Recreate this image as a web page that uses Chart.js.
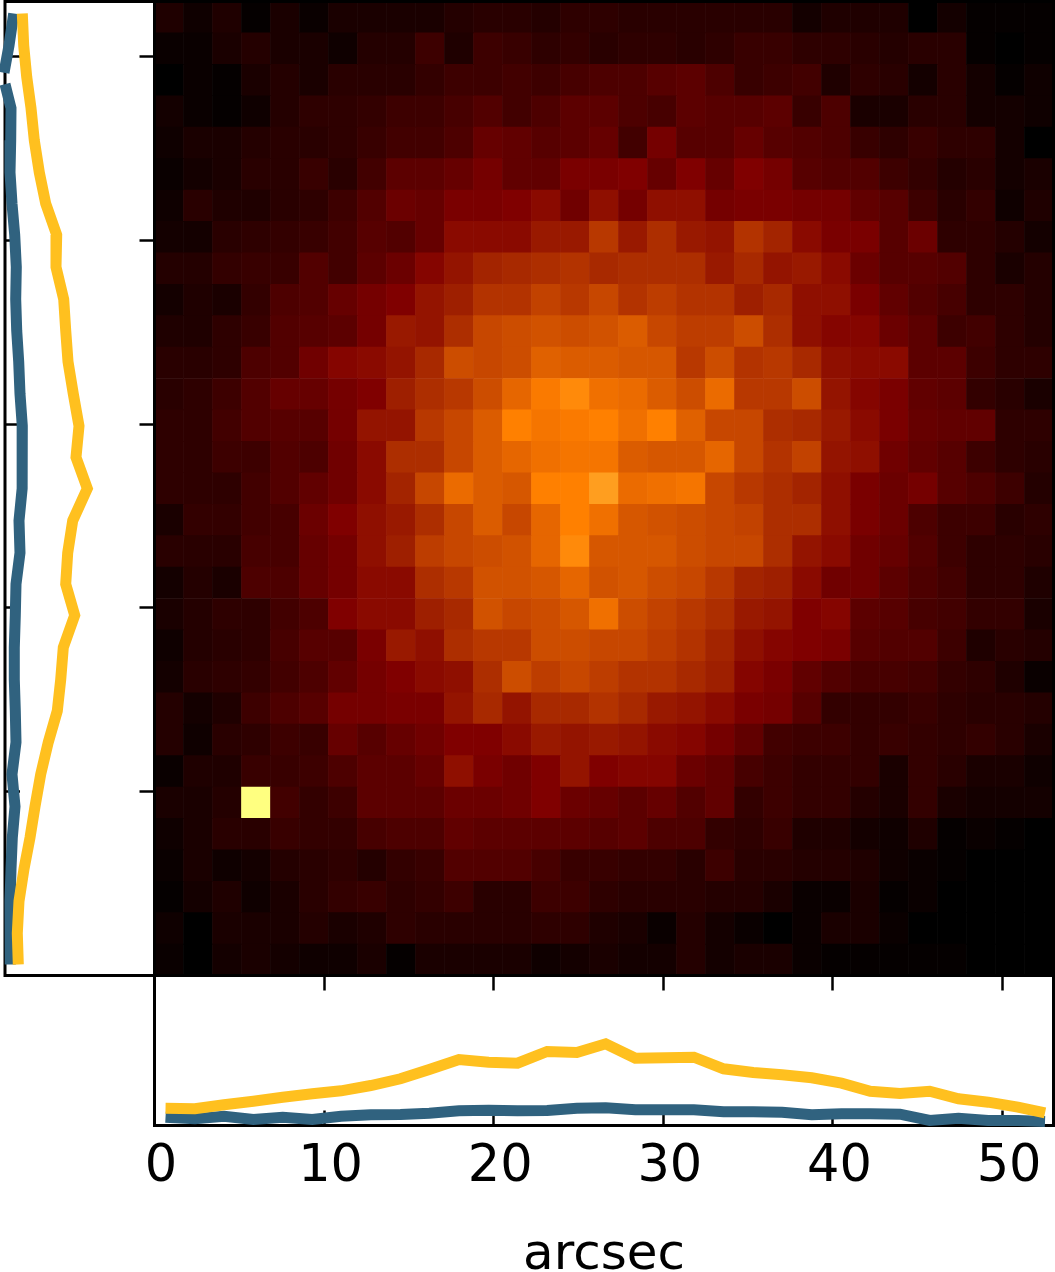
<!DOCTYPE html>
<html>
<head>
<meta charset="utf-8">
<script src="https://cdn.jsdelivr.net/npm/chart.js@4"></script>
<style>
    body{margin:0;background:#fff;}
    #page{position:relative;width:1055px;height:1272px;overflow:hidden;}
    canvas{position:absolute;display:block;}
</style>
</head>
<body>
<div id="page">
    <canvas id="leftChart" width="157" height="978" style="left:0;top:0"></canvas>
    <canvas id="mainChart" width="902" height="978" style="left:153px;top:0"></canvas>
    <canvas id="bottomChart" width="1055" height="298" style="left:0;top:974px"></canvas>
</div>
<script>
// map brightness, one list per row, top row first (percent of the colour scale)
const heatRows=[
    [6,3,6,1,5,2,5,5,5,5,7,8,8,7,9,9,8,8,8,8,8,8,4,6,6,6,0,4,1,1,1],
    [2,2,5,7,5,5,3,7,7,12,6,12,11,9,10,8,9,9,8,9,11,11,9,9,8,7,8,8,1,0,1],
    [0,2,1,5,7,5,8,8,8,10,12,12,13,12,14,15,15,17,18,15,11,12,13,6,9,8,4,8,4,1,3],
    [4,2,1,3,7,9,9,10,12,12,14,16,13,15,18,18,15,14,18,17,17,18,11,15,5,5,8,8,4,4,3],
    [3,5,5,7,8,8,9,11,13,13,15,20,19,17,18,20,13,23,17,17,20,17,16,15,11,9,11,9,9,4,0],
    [2,4,5,8,8,11,8,13,18,18,20,23,19,19,24,24,25,20,25,20,25,23,17,16,16,12,10,7,8,4,5],
    [3,8,6,6,8,9,12,16,21,20,24,24,25,27,22,28,23,28,28,23,24,24,23,23,19,17,12,8,10,3,6],
    [4,4,8,9,10,11,13,17,16,20,27,27,27,30,30,36,30,34,30,29,35,32,27,24,24,17,21,9,9,7,4],
    [7,7,10,11,11,16,13,18,21,26,29,32,33,34,35,33,34,34,34,30,33,29,30,27,21,17,17,16,9,5,7],
    [4,6,5,10,15,16,20,23,25,29,31,35,35,38,36,39,35,37,35,35,31,33,28,28,24,19,16,14,9,9,7],
    [6,6,9,11,16,17,18,23,30,29,34,39,40,41,40,41,43,39,37,37,40,34,28,26,26,21,18,12,13,9,7],
    [8,8,9,15,16,22,26,27,29,33,40,39,40,44,43,43,42,42,36,40,35,36,33,28,27,27,18,18,12,9,9],
    [8,9,12,16,20,20,23,25,31,34,36,40,45,49,52,47,46,43,40,46,36,36,40,29,26,24,19,18,10,8,5],
    [9,9,13,16,17,17,23,29,29,36,39,43,50,48,49,50,47,50,44,39,39,34,33,30,27,24,20,19,19,9,9],
    [9,9,12,12,16,15,22,27,34,34,39,43,45,47,48,48,43,42,42,45,39,35,38,29,28,22,19,17,12,9,8],
    [9,9,9,13,16,19,22,27,32,39,46,43,42,50,50,56,46,47,48,39,36,34,32,28,24,21,23,17,15,12,7],
    [5,10,10,13,14,21,25,28,30,34,39,43,39,45,50,47,42,41,40,39,38,34,34,28,24,21,15,12,12,8,9],
    [8,8,8,14,14,20,23,28,31,37,39,40,41,45,52,42,42,42,40,39,39,34,29,27,22,20,16,12,9,9,8],
    [4,7,5,15,15,20,23,27,27,34,36,41,41,42,45,41,42,40,39,36,32,31,27,22,22,18,15,13,9,9,6],
    [5,7,9,9,13,15,25,27,27,31,33,41,39,40,42,47,40,38,36,34,30,29,25,26,18,17,14,13,10,10,5],
    [3,7,8,9,14,17,17,24,30,28,34,36,36,40,40,39,39,37,35,32,28,26,25,24,17,16,16,12,6,8,7],
    [4,8,9,10,13,15,19,23,25,27,28,34,40,37,39,37,35,35,33,31,26,24,19,16,14,14,13,10,9,6,2],
    [7,4,6,12,15,17,23,23,24,24,29,33,29,33,33,35,33,30,29,27,24,23,17,10,10,10,11,9,8,8,7],
    [7,3,8,9,12,11,20,17,20,22,25,25,27,30,29,30,29,27,26,23,19,13,12,12,10,11,10,9,10,8,5],
    [2,6,6,11,11,12,15,18,18,20,28,24,22,25,29,25,26,26,21,19,14,12,10,10,10,5,10,8,5,5,3],
    [5,5,7,75,13,10,12,18,18,18,21,21,22,25,21,20,18,20,16,19,10,12,10,10,7,5,10,5,4,4,4],
    [3,5,8,8,11,10,10,14,15,15,19,18,18,18,18,17,18,15,15,10,9,11,6,6,4,3,6,1,2,1,0],
    [2,5,3,4,7,8,9,7,10,11,16,16,16,14,11,11,10,10,8,12,8,8,7,7,6,3,2,1,0,0,0],
    [1,4,6,3,5,8,10,11,9,10,12,8,8,12,12,9,8,8,8,7,7,5,2,2,5,1,2,0,0,0,0],
    [3,0,5,5,5,7,5,6,9,8,8,8,8,9,9,6,5,2,7,4,2,0,2,5,5,2,0,0,0,0,0],
    [2,0,4,5,4,3,3,5,1,5,5,5,5,3,4,5,4,4,7,4,5,5,2,1,1,1,1,1,0,0,0],
];
// arcsec positions of the profile points
const scanX=[0.65,2.38,4.1,5.83,7.56,9.3,11,12.75,14.5,16.2,17.95,19.7,21.4,23.15,24.9,26.6,28.35,30.1,31.8,33.55,35.3,37,38.75,40.5,42.2,43.95,45.7,47.4,49.15,50.9,52.5];
const scanY=[52.35,50.6,48.9,47.2,45.45,43.7,42,40.3,38.55,36.8,35.1,33.4,31.65,29.9,28.2,26.5,24.75,23,21.3,19.6,17.85,16.1,14.4,12.7,10.95,9.2,7.5,5.8,4.05,2.3,0.6];
// bottom profiles
const bottomGold=[17.3,16.7,20.7,24.3,28.3,31.7,34.7,40,46.7,56,66,63.3,62.3,74,73,81.7,67.3,67.7,68.3,56.7,53,50.7,47.7,42.3,34.3,32,34.3,26.7,23.3,18.3,12.7];
const bottomBlue=[8.3,6.7,9.3,6,8.3,6,9.3,10.7,11,12.3,14.7,15.3,14.7,15,17.3,17.7,15.7,15.7,15.7,13.7,13.7,13.3,10.7,11.7,11.7,11.3,5,7.3,5,5,4];
// left profiles; the blue one leaves the panel near the top, so it has its own y list with a gap
const leftGold=[17.3,18.7,21.7,26,29.3,34.3,40.7,51.7,51,58.7,60.7,63,68.3,74,71,82.3,67.7,62.7,60.7,69.7,58.3,55.7,52.3,43.3,35.7,30,25,19,14,12.3,13.3];
const leftBlue=[8.7,4,-1,null,0,6,5.7,5,7,9.7,11.3,10.7,11.7,13.7,15,17.3,17.3,17,14,15,11,10.3,9.3,9.3,10.3,11,7,10,7.3,6,5,5.3,5.3];
const leftBlueY=[52.35,50.6,49.12,null,48.5,47.2,45.45,43.7,42,40.3,38.55,36.8,35.1,33.4,31.65,29.9,28.2,26.5,24.75,23,21.3,19.6,17.85,16.1,14.4,12.7,10.95,9.2,7.5,5.8,4.05,2.3,0.6];
const tickValues=[0,10,20,30,40,50];
const axisLabel='arcsec';

const GOLD='#ffc01f';
const BLUE='#30627f';

function hotColor(p){
    const v=p/100;
    const c=x=>Math.round(255*Math.min(1,Math.max(0,x)));
    return `rgb(${c(2*v)},${c(2*v-0.5)},${c(2*v-1)})`;
}

function toPoints(xs,ys){
    return ys.map((y,i)=>({x:xs[i],y:y}));
}

function profile(points,color){
    return {data:points,borderColor:color,borderWidth:11,showLine:true,pointRadius:0,tension:0,clip:false};
}

// black box round the plot area, drawn at the given hook
function frame(hook){
    return {
        id:'frame',
        [hook](chart){
            const a=chart.chartArea;
            const ctx=chart.ctx;
            ctx.save();
            ctx.strokeStyle='#000';
            ctx.lineWidth=3;
            ctx.strokeRect(a.left,a.top,a.right-a.left,a.bottom-a.top);
            ctx.restore();
        },
    };
}

// ticks point into the panel, so the tick length is negative
function tickAxis(position,size,extra){
    return Object.assign({
        type:'linear',
        position:position,
        min:0,
        max:53,
        afterBuildTicks(scale){scale.ticks=tickValues.map(v=>({value:v}));},
        afterFit(scale){
            if(scale.isHorizontal()){scale.height=size;}else{scale.width=size;}
            // the labels must not pull the plot area in
            scale.paddingLeft=0;
            scale.paddingRight=0;
            scale.paddingTop=0;
            scale.paddingBottom=0;
        },
        border:{display:false},
        grid:{drawOnChartArea:false,drawTicks:true,tickLength:-15,tickWidth:2.5,tickColor:'#000'},
        ticks:{display:false},
    },extra||{});
}

const common={
    responsive:false,
    animation:false,
    events:[],
    plugins:{legend:{display:false},tooltip:{enabled:false}},
};

new Chart(document.getElementById('leftChart'),{
    type:'scatter',
    data:{datasets:[
        profile(toPoints(leftGold,scanY),GOLD),
        profile(toPoints(leftBlue,leftBlueY),BLUE),
    ]},
    options:Object.assign({},common,{
        layout:{padding:{left:5,right:2.5,top:1.5,bottom:2.5}},
        scales:{
            x:{type:'linear',min:0,max:149.5,display:false},
            y:tickAxis('left',0),
            yRight:tickAxis('right',0),
        },
    }),
    plugins:[frame('beforeDatasetsDraw')],
});

new Chart(document.getElementById('mainChart'),{
    type:'bar',
    data:{
        labels:scanX,
        // stack grows upward, so the bottom row goes first
        datasets:heatRows.slice().reverse().map(row=>({
            data:row.map(()=>1),
            backgroundColor:row.map(hotColor),
            borderWidth:0,
            barPercentage:1,
            categoryPercentage:1,
        })),
    },
    options:Object.assign({},common,{
        layout:{padding:{left:1.5,right:1.5,top:1.5,bottom:2.5}},
        scales:{
            x:{stacked:true,display:false},
            y:{stacked:true,min:0,max:heatRows.length,display:false},
        },
    }),
    plugins:[frame('afterDatasetsDraw')],
});

new Chart(document.getElementById('bottomChart'),{
    type:'scatter',
    data:{datasets:[
        profile(toPoints(scanX,bottomGold),GOLD),
        profile(toPoints(scanX,bottomBlue),BLUE),
    ]},
    options:Object.assign({},common,{
        layout:{padding:{left:154.5,right:1.5,top:1.5,bottom:0}},
        scales:{
            y:{type:'linear',min:0,max:150,display:false},
            x:tickAxis('bottom',146.5,{
                ticks:{
                    display:true,
                    autoSkip:false,
                    maxRotation:0,
                    color:'#000',
                    padding:26.5,
                    labelOffset:6.5,
                    font:{family:'"DejaVu Sans"',size:51},
                    callback:v=>String(v),
                },
                title:{
                    display:true,
                    text:axisLabel,
                    color:'#000',
                    font:{family:'"DejaVu Sans"',size:50},
                    padding:{top:0,bottom:-14},
                },
            }),
            xTop:tickAxis('top',0),
        },
    }),
    plugins:[frame('beforeDatasetsDraw')],
});
</script>
</body>
</html>
